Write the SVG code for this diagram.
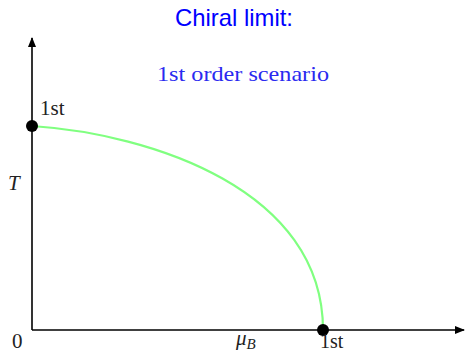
<svg xmlns="http://www.w3.org/2000/svg" width="465" height="354" viewBox="0 0 465 354">
<style>
.axis{stroke:#000;stroke-width:1.6;fill:none}
.curve{stroke:#80ff80;stroke-width:2.2;fill:none}
.serif{font-family:"Liberation Serif","DejaVu Serif",serif;fill:#222}
.dot{fill:#000}
</style>
<defs>
<marker id="arr" viewBox="0 0 10 10" refX="9" refY="5" markerWidth="10" markerHeight="10" markerUnits="userSpaceOnUse" orient="auto">
<path d="M0,1 L10,5 L0,9 Z" fill="#000"/>
</marker>
</defs>
<rect width="465" height="354" fill="#fff"/>
<text x="234" y="26" text-anchor="middle" font-family="'Liberation Sans','DejaVu Sans',sans-serif" font-size="24" fill="#0000ff" textLength="118" lengthAdjust="spacingAndGlyphs">Chiral limit:</text>
<text x="243" y="81" text-anchor="middle" font-family="'Liberation Serif','DejaVu Serif',serif" font-size="21" fill="#2a2af0" textLength="172" lengthAdjust="spacingAndGlyphs">1st order scenario</text>
<g id="connectors">
<line class="axis" x1="32" y1="330" x2="32" y2="38" marker-end="url(#arr)"/>
<line class="axis" x1="32" y1="330" x2="464" y2="330" marker-end="url(#arr)"/>
<path class="curve" d="M32,126 C152,134 323,190 323,330"/>
</g>
<g id="node-top">
<circle class="dot" cx="32" cy="126" r="6"/>
<text class="serif" x="40" y="115" font-size="21">1st</text>
</g>
<g id="node-bottom">
<circle class="dot" cx="323" cy="330" r="6"/>
<text class="serif" x="320" y="348" font-size="20">1st</text>
</g>
<g id="labels">
<text class="serif" x="8" y="190" font-size="21" font-style="italic">T</text>
<text class="serif" x="12" y="348" font-size="21">0</text>
<text class="serif" x="236" y="345" font-size="21" font-style="italic">μ<tspan font-size="15" dy="4">B</tspan></text>
</g>
</svg>
